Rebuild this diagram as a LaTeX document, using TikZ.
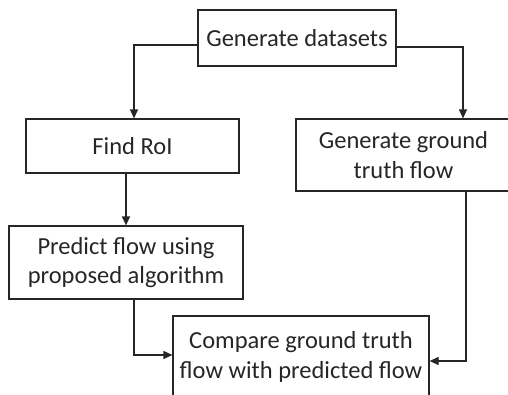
\documentclass[tikz,border=0pt]{standalone}
\usepackage{fontspec}
\setmainfont{Carlito}
\usetikzlibrary{arrows.meta,calc}
\begin{document}
\begin{tikzpicture}[x=1pt,y=-1pt,
  box/.style={draw=black!85, line width=1.2pt, align=center, inner sep=0pt, text=black!85, font=\fontsize{24.5}{29.5}\selectfont},
  arr/.style={draw=black!85, line width=1.2pt, -{Triangle[length=9pt,width=8pt]}}]
\useasboundingbox[fill=white] (0,0) rectangle (508,394);
\node[box, minimum width=198pt, minimum height=56pt] (gd) at (297,38) {Generate datasets};
\node[box, minimum width=213pt, minimum height=54pt] (roi) at (132.5,146) {Find RoI};
\node[box, minimum width=215pt, minimum height=72pt] (gt) at (403.5,155) {Generate ground\\truth flow};
\node[box, minimum width=234pt, minimum height=73pt] (pf) at (126,262.5) {Predict flow using\\proposed algorithm};
\node[box, minimum width=256pt, minimum height=82pt] (cmp) at (301,357) {Compare ground truth\\flow with predicted flow};
\draw[arr] ($(gd.west)+(0,7)$) -| ($(roi.north)+(1.5,0)$);
\draw[arr] ($(gd.east)+(0,9)$) -| ($(gt.north)+(59.5,0)$);
\draw[arr] (roi.south -| pf.north) -- (pf.north);
\draw[arr] ($(pf.south)+(8,0)$) |- ($(cmp.west)+(0,-2)$);
\draw[arr] ($(gt.south)+(62.5,0)$) |- ($(cmp.east)+(0,4)$);
\end{tikzpicture}
\end{document}
